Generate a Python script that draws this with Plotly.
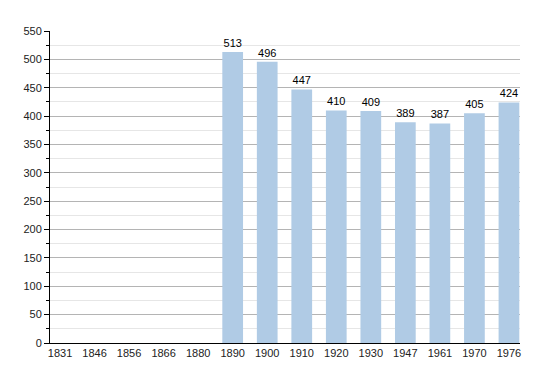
import plotly.graph_objects as go

years = ["1831", "1846", "1856", "1866", "1880", "1890", "1900", "1910",
         "1920", "1930", "1947", "1961", "1970", "1976"]
population = [None, None, None, None, None, 513, 496, 447, 410, 409, 389, 387, 405, 424]
labels = ["" if v is None else str(v) for v in population]

fig = go.Figure(go.Bar(
    x=years, y=population,
    marker=dict(color="#b0cbe5", line=dict(width=0)),
    width=0.6,
    text=labels, textposition="outside",
    textfont=dict(color="#000000", size=11, family="Liberation Sans, Arial, sans-serif"),
    cliponaxis=False,
))

fig.update_layout(
    width=550, height=373,
    margin=dict(l=50, r=30, t=31, b=30),
    paper_bgcolor="white", plot_bgcolor="white",
    font=dict(family="Liberation Sans, Arial, sans-serif", size=11, color="#222222"),
    showlegend=False,
    bargap=0.4,
)
fig.update_xaxes(
    type="category", range=[-0.29, 13.32],
    showline=True, linecolor="#000000", linewidth=1,
    ticks="", showgrid=False, tickfont=dict(size=11),
)
fig.update_yaxes(
    range=[0, 550], dtick=50, tick0=0,
    showline=True, linecolor="#000000", linewidth=1,
    ticks="outside", ticklen=5, tickcolor="#000000",
    showgrid=True, gridcolor="#b4b4b4", gridwidth=1,
    zeroline=False,
    minor=dict(dtick=25, tick0=0, ticks="outside", ticklen=3, tickcolor="#000000",
               showgrid=True, gridcolor="#e6e6e6", gridwidth=1),
    tickfont=dict(size=11),
)

fig.write_html("out.html")
